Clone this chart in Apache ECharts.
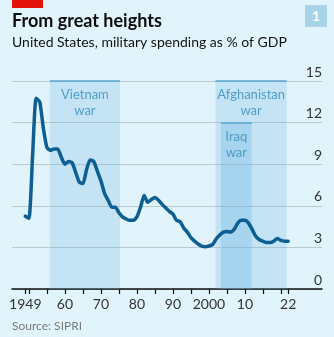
<!DOCTYPE html>
<html>
<head>
<meta charset="utf-8">
<script src="https://cdn.jsdelivr.net/npm/echarts@6/dist/echarts.min.js"></script>
<style>
html,body{margin:0;padding:0;background:#e1f3fb;}
#c{width:334px;height:337px;}
</style>
</head>
<body>
<div id="c"></div>
<script>
const years = [1949,1950,1951,1952,1953,1954,1955,1956,1957,1958,1959,1960,1961,1962,1963,1964,1965,1966,1967,1968,1969,1970,1971,1972,1973,1974,1975,1976,1977,1978,1979,1980,1981,1982,1983,1984,1985,1986,1987,1988,1989,1990,1991,1992,1993,1994,1995,1996,1997,1998,1999,2000,2001,2002,2003,2004,2005,2006,2007,2008,2009,2010,2011,2012,2013,2014,2015,2016,2017,2018,2019,2020,2021,2022];
const spending = [5.25,5.1,9.5,13.75,13.5,11.6,10.2,10.0,10.1,10.1,9.5,9.0,9.2,9.1,8.4,7.7,7.6,8.6,9.3,9.2,8.5,7.8,6.9,6.4,5.9,5.9,5.5,5.2,5.05,4.95,4.95,5.2,5.9,6.75,6.25,6.45,6.6,6.4,6.1,5.85,5.6,5.4,4.95,4.85,4.4,4.1,3.7,3.45,3.25,3.1,3.05,3.1,3.2,3.6,3.9,4.1,4.15,4.1,4.3,4.75,4.95,4.95,4.75,4.3,3.8,3.55,3.45,3.35,3.35,3.45,3.65,3.5,3.45,3.45];
const warNames = ['Vietnam\nwar','Afghanistan\nwar','Iraq\nwar'];
const warStarts = [1955.8,2001.8,2003.3];
const warEnds = [1975.3,2021.6,2011.9];
const warTops = [15,15,12];
const warAlpha = [0.23,0.23,0.3];
const xTicks = [1949,1950,1955,1960,1965,1970,1975,1980,1985,1990,1995,2000,2005,2010,2015,2020,2022];
const xLabels = [1949,1960,1970,1980,1990,2000,2010,2022];
const yTicks = [0,3,6,9,12,15];

const font = 'Lato, "Open Sans", sans-serif';
const chart = echarts.init(document.getElementById('c'));

const areaData = warNames.map((n,i)=>[
  {name:n, xAxis:warStarts[i], yAxis:warTops[i], itemStyle:{color:'rgba(100,180,225,'+warAlpha[i]+')'}},
  {xAxis:warEnds[i], yAxis:0}
]);
const topLines = warNames.map((n,i)=>[
  {coord:[warStarts[i], warTops[i]]},
  {coord:[warEnds[i], warTops[i]]}
]);

chart.setOption({
  backgroundColor:'#e1f3fb',
  animation:false,
  textStyle:{fontFamily:font},
  graphic:[
    {type:'rect', shape:{x:12,y:0,width:31,height:8}, style:{fill:'#e3120b'}},
    {type:'text', left:12, top:12, style:{text:'From great heights', font:'bold 18px '+font, fill:'#0d0d0d'}},
    {type:'text', left:12, top:35, style:{text:'United States, military spending as % of GDP', font:'14px '+font, fill:'#111'}},
    {type:'rect', shape:{x:305,y:5,width:22,height:22}, style:{fill:'#a8d4ea'}},
    {type:'text', x:316, y:16, style:{text:'1', font:'bold 14px '+font, fill:'#fff', align:'center', verticalAlign:'middle'}},
    {type:'text', left:12, top:320, style:{text:'Source: SIPRI', font:'12px '+font, fill:'#7a7a7a'}}
  ],
  grid:{left:12, right:12, top:81, bottom:48},
  xAxis:{
    type:'value', min:1945.3, max:2031.4,
    splitLine:{show:false},
    axisLine:{show:true, lineStyle:{color:'#111', width:1.5}},
    axisTick:{show:true, length:5, customValues:xTicks, lineStyle:{color:'#111', width:1.2}},
    axisLabel:{customValues:xLabels, margin:8, fontSize:14, color:'#333', fontFamily:font,
      formatter:function(v){ if(v===1949||v===2000) return String(v); return String(v%100).padStart(2,'0'); }}
  },
  yAxis:{
    type:'value', min:0, max:15, interval:3, position:'right',
    axisLine:{show:false}, axisTick:{show:false},
    splitLine:{lineStyle:{color:'#bcc8ce', width:1}},
    axisLabel:{inside:true, margin:0, align:'right', verticalAlign:'bottom', padding:[0,0,2,0], fontSize:14, color:'#333', fontFamily:font,
      customValues:yTicks}
  },
  series:[
    {
      type:'line', data:[], z:1, silent:true,
      markArea:{
        silent:true,
        label:{show:true, position:'insideTop', distance:6, color:'#4f9dc8', fontSize:13, lineHeight:16, fontFamily:font},
        data:areaData
      },
      markLine:{
        silent:true, symbol:'none', label:{show:false},
        lineStyle:{color:'#5aa6d0', width:1.5, type:'solid'},
        data:topLines
      }
    },
    {
      type:'line', z:5,
      data:years.map((y,i)=>[y, spending[i]]),
      showSymbol:false, smooth:0.2,
      lineStyle:{color:'#0c5e93', width:3.5, cap:'round', join:'round'}
    }
  ]
});
</script>
</body>
</html>
